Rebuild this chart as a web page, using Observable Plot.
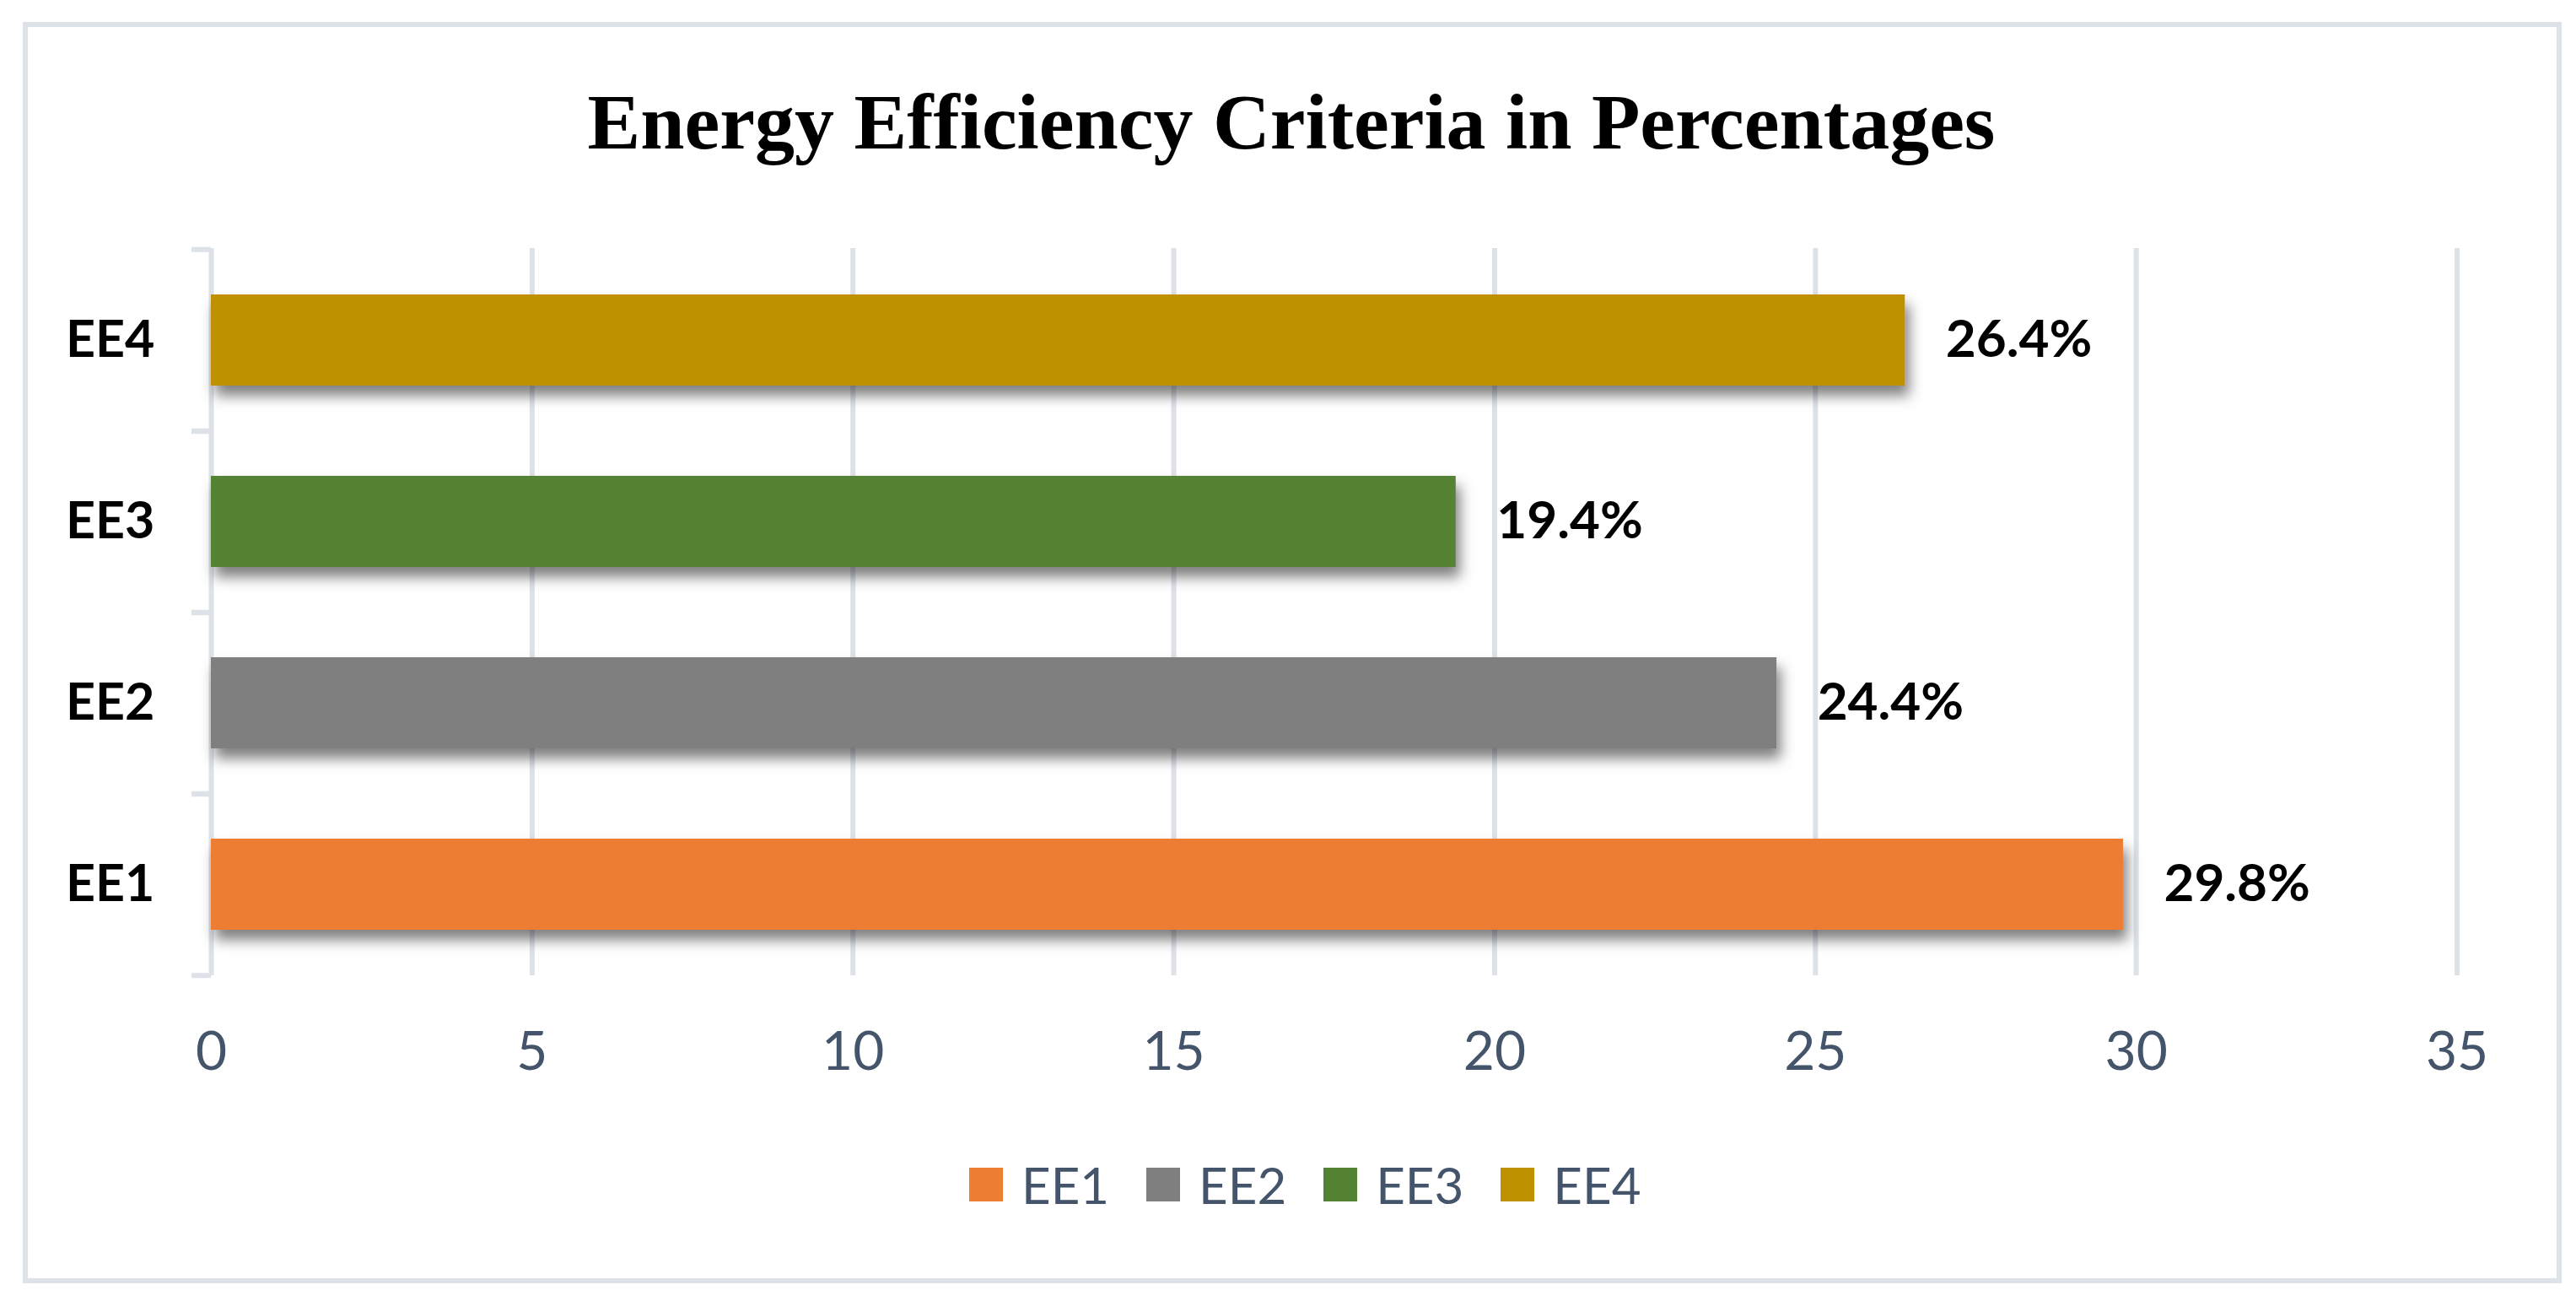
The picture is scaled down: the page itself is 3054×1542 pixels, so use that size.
<!DOCTYPE html>
<html>
<head>
<meta charset="utf-8">
<script src="https://cdn.jsdelivr.net/npm/d3@7"></script>
<script src="https://cdn.jsdelivr.net/npm/@observablehq/plot@0.6"></script>
<style>
  html, body { margin: 0; padding: 0; background: #fff; }
  #page { position: relative; width: 3054px; height: 1542px; background: #fff; overflow: hidden; }
  #frame { position: absolute; left: 27px; top: 26px; width: 3010px; height: 1495px; box-sizing: border-box; border: 6px solid #dde1e8; }
  #title { position: absolute; left: 0; top: 97px; width: 3062px; text-align: center; font-family: "Liberation Serif", "Times New Roman", serif; font-weight: bold; font-size: 94px; line-height: 94px; color: #000; white-space: nowrap; }
  #chart { position: absolute; left: 0; top: 200px; }
  #legend { position: absolute; left: 1149px; top: 1374px; height: 60px; display: flex; align-items: center; font-family: Lato, sans-serif; font-size: 60px; color: #44546a; white-space: nowrap; }
  .item { display: flex; align-items: center; margin-right: 44px; }
  .sw { width: 40px; height: 40px; margin-right: 22px; }
</style>
</head>
<body>
<div id="page">
  <div id="frame"></div>
  <div id="title"></div>
  <div id="chart"></div>
  <div id="legend"></div>
</div>
<script>
const titleText = "Energy Efficiency Criteria in Percentages";
const categories = ["EE1", "EE2", "EE3", "EE4"];
const values = [29.8, 24.4, 19.4, 26.4];
const colors = ["#ED7D31", "#7F7F7F", "#548235", "#BF9000"];
const xTicks = [0, 5, 10, 15, 20, 25, 30, 35];

const rows = categories.map((c, i) => ({category: c, value: values[i]}));

document.getElementById("title").textContent = titleText;

const W = 3054, H = 1100, mt = 94, mb = 144, ml = 250, mr = 141.5;
const step = (H - mt - mb) / categories.length;
const gridColor = "#dde1e8";

const chart = Plot.plot({
  width: W,
  height: H,
  marginTop: mt,
  marginBottom: mb,
  marginLeft: ml,
  marginRight: mr,
  style: {fontFamily: "Lato, sans-serif", background: "transparent", overflow: "visible"},
  x: {domain: [0, 35], ticks: xTicks},
  y: {domain: categories.slice().reverse(), paddingInner: 0.5, paddingOuter: 0.25},
  color: {domain: categories, range: colors},
  marks: [
    Plot.gridX(xTicks, {stroke: gridColor, strokeOpacity: 1, strokeWidth: 6}),
    Plot.axisY({tickSize: 23, tickFormat: () => "", dy: -step / 2, color: gridColor, strokeWidth: 6, label: null}),
    Plot.axisY({tickSize: 23, tickFormat: () => "", dy: step / 2, color: gridColor, strokeWidth: 6, label: null}),
    Plot.axisY({tickSize: 0, tickPadding: 67, fontSize: 61, fontWeight: "bold", color: "#000", label: null}),
    Plot.axisX({ticks: xTicks, tickSize: 0, tickPadding: 66, fontSize: 64, color: "#44546a", label: null}),
    Plot.barX(rows, {x: "value", y: "category", fill: "category"}),
    Plot.text(rows, {x: "value", y: "category", text: d => d.value.toFixed(1) + "%", textAnchor: "start", dx: 48, fontSize: 62, fontWeight: "bold", fill: "#000"})
  ]
});

// drop shadow under the bars (styling only)
const svg = d3.select(chart);
const defs = svg.insert("defs", ":first-child");
defs.append("filter").attr("id", "barShadow")
  .attr("x", "-5%").attr("y", "-20%").attr("width", "115%").attr("height", "160%")
  .append("feDropShadow")
  .attr("dx", 5).attr("dy", 12).attr("stdDeviation", 8)
  .attr("flood-color", "#000").attr("flood-opacity", 0.5);
svg.selectAll('g[aria-label="bar"]').attr("filter", "url(#barShadow)");

document.getElementById("chart").appendChild(chart);

const legend = d3.select("#legend");
categories.forEach((c, i) => {
  const it = legend.append("div").attr("class", "item");
  it.append("div").attr("class", "sw").style("background", colors[i]);
  it.append("span").text(c);
});
</script>
</body>
</html>
